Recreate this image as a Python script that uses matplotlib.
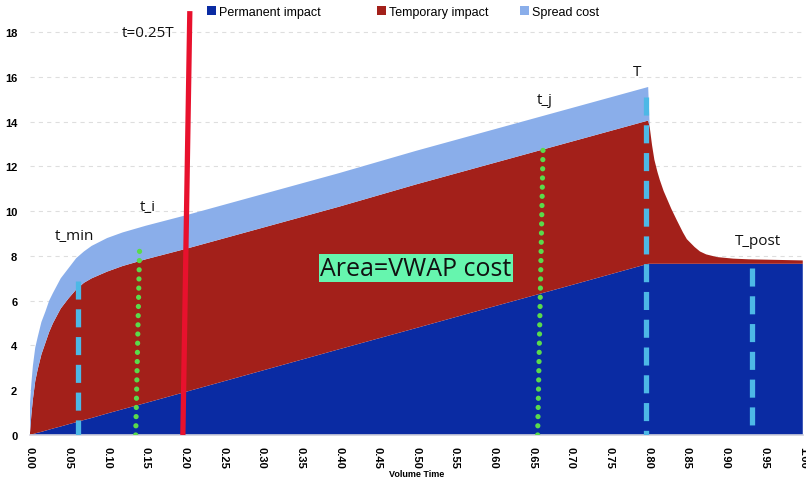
import matplotlib
matplotlib.use("Agg")
import matplotlib.pyplot as plt
from matplotlib.patches import Patch
import numpy as np

plt.rcParams['font.family'] = ['Open Sans', 'DejaVu Sans']
plt.rcParams['lines.scale_dashes'] = False

# ---- data ----
volume_time = [0.0, 0.002, 0.004, 0.007, 0.01, 0.015, 0.02, 0.025, 0.03, 0.04, 0.05, 0.06,
               0.07, 0.08, 0.1, 0.12, 0.15, 0.2, 0.3, 0.4, 0.5, 0.6, 0.7, 0.8,
               0.802, 0.805, 0.808, 0.812, 0.815, 0.82, 0.825, 0.83, 0.837, 0.845, 0.85,
               0.86, 0.867, 0.875, 0.889, 0.91, 0.93, 1.0]
permanent_impact = [0.0, 0.02, 0.04, 0.07, 0.1, 0.14, 0.19, 0.24, 0.29, 0.38, 0.48, 0.57,
                    0.67, 0.76, 0.96, 1.15, 1.43, 1.91, 2.87, 3.83, 4.78, 5.74, 6.69, 7.65,
                    7.65, 7.65, 7.65, 7.65, 7.65, 7.65, 7.65, 7.65, 7.65, 7.65, 7.65,
                    7.65, 7.65, 7.65, 7.65, 7.65, 7.65, 7.65]
temporary_impact = [0.0, 0.88, 1.56, 2.33, 2.8, 3.46, 3.91, 4.36, 4.71, 5.27, 5.62, 5.93,
                    6.13, 6.24, 6.34, 6.4, 6.42, 6.39, 6.38, 6.37, 6.42, 6.41, 6.41, 6.4,
                    6.1, 5.3, 4.65, 4.1, 3.75, 3.25, 2.85, 2.45, 1.95, 1.4, 1.1,
                    0.75, 0.55, 0.42, 0.3, 0.23, 0.2, 0.15]
spread_cost = [1.3, 1.4, 1.5, 1.5, 1.45, 1.45, 1.4, 1.4, 1.35, 1.35, 1.35, 1.4,
               1.4, 1.45, 1.5, 1.5, 1.5, 1.5, 1.5, 1.5, 1.5, 1.5, 1.5, 1.5,
               0.0, 0.0, 0.0, 0.0, 0.0, 0.0, 0.0, 0.0, 0.0, 0.0, 0.0,
               0.0, 0.0, 0.0, 0.0, 0.0, 0.0, 0.0]
series_names = ["Permanent impact", "Temporary impact", "Spread cost"]
series_colors = ["#0A2BA3", "#A3201A", "#8AAEEA"]

x_ticks = [round(0.05 * i, 2) for i in range(21)]
y_ticks = [0, 2, 4, 6, 8, 10, 12, 14, 16, 18]

# marker lines: (x_bottom, x_top, y_top)
red_line = (0.198, 0.207, 18.94)
dashed_lines = [(0.062, 6.9), (0.797, 15.1), (0.934, 7.46)]
dotted_lines = [(0.137, 0.142, 8.3), (0.657, 0.664, 12.86)]

labels = [("t=0.25T", 0.153, 18.0), ("t_min", 0.058, 8.9), ("t_i", 0.153, 10.2),
          ("t_j", 0.666, 15.0), ("T", 0.785, 16.25), ("T_post", 0.942, 8.7)]

# ---- figure ----
fig = plt.figure(figsize=(8.06, 4.81), dpi=100)
ax = fig.add_axes([0.037, 0.0936, 0.959, 0.884])

ax.stackplot(volume_time, permanent_impact, temporary_impact, spread_cost,
             colors=series_colors, zorder=2, linewidth=0)

ax.set_xlim(0, 1.0)
ax.set_ylim(0, 19.0)
ax.set_yticks(y_ticks)
ax.set_xticks(x_ticks)
tick_font = ['Liberation Sans', 'DejaVu Sans']
ax.set_xticklabels([f"{t:.2f}" for t in x_ticks], rotation=-90, fontsize=8,
                   fontweight='bold', family=tick_font)
ax.set_yticklabels([str(t) for t in y_ticks], fontsize=8, fontweight='bold',
                   family=tick_font)
ax.tick_params(axis='both', length=0)
ax.tick_params(axis='y', pad=9)
ax.tick_params(axis='x', pad=8)
ax.yaxis.grid(True, color='#dedede', linestyle=(0, (3, 3)), linewidth=0.8, zorder=0)
ax.set_axisbelow(True)
for s in ['left', 'top', 'right']:
    ax.spines[s].set_visible(False)
ax.spines['bottom'].set_color('#d0d0dc')
ax.spines['bottom'].set_linewidth(1.2)
ax.set_xlabel("Volume Time", fontsize=6.5, fontweight='bold',
              family=tick_font, labelpad=1)

# red line
ax.plot([red_line[0], red_line[1]], [0, red_line[2]], color='#E8112D', lw=3.8,
        zorder=5, solid_capstyle='butt', clip_on=False)
# dashed light-blue lines
for xd, yt in dashed_lines:
    ax.plot([xd, xd], [yt, 0], color='#4DB8E6', lw=3.8, linestyle=(0, (13, 7)),
            zorder=5, dash_capstyle='butt')
# dotted green lines
for xb, xt, yt in dotted_lines:
    ax.plot([xb, xt], [0, yt], color='#5ADB4B', lw=3.8, linestyle=(0, (0.01, 6.6)),
            zorder=5, dash_capstyle='round')

for txt, lx, ly in labels:
    ax.text(lx, ly, txt, fontsize=11, ha='center', va='center', color='#111111', zorder=6)

ax.text(0.4994, 7.46, "Area=VWAP cost", fontsize=18, ha='center', va='center',
        color='#111111', zorder=6,
        bbox=dict(boxstyle='square,pad=0.06', facecolor='#66F5AE', edgecolor='none'))

# legend entries placed like the reference (unequal spacing)
legend_anchor_x = [0.2426, 0.4535, 0.6309]
for name, col, lx in zip(series_names, series_colors, legend_anchor_x):
    fig.legend([Patch(facecolor=col, edgecolor='none')], [name], loc='center left',
               bbox_to_anchor=(lx, 0.974), frameon=False, handlelength=0.7,
               handleheight=0.7, handletextpad=0.3,
               prop={'family': tick_font, 'size': 9})

fig.savefig("out.png", dpi=100)
